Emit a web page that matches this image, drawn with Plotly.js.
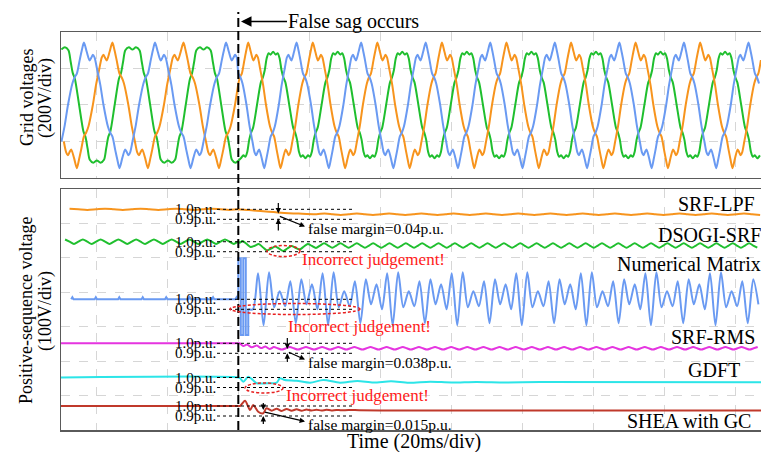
<!DOCTYPE html>
<html><head><meta charset="utf-8">
<script src="https://cdn.plot.ly/plotly-3.0.1.min.js"></script>
<style>html,body{margin:0;padding:0;background:#fff}#chart{width:761px;height:452px}</style>
</head><body><div id="chart"></div>
<script>
// ================= DATA =================
const sagTime = 50;              // ms, false sag instant
const prePeriod = 20;            // ms, grid period before the event
const postPeriod = 18.17;        // ms, grid period after the event
// one-cycle waveform shapes of the grid voltages (phase fraction, value in div of 200 V)
const sharpPhase = [0,0.04,0.08,0.105,0.127,0.15,0.183,0.23,0.275,0.337,0.37,0.40,0.44,0.47,0.5,0.54,0.58,0.605,0.627,0.65,0.683,0.73,0.775,0.837,0.87,0.90,0.94,0.97];
const sharpValue = [1.71,1.45,1.22,1.30,1.38,1.30,1.00,0.55,0.00,-0.59,-0.76,-0.86,-1.23,-1.50,-1.73,-1.45,-1.22,-1.30,-1.38,-1.30,-1.00,-0.55,0.00,0.59,0.76,0.86,1.23,1.50];
const flatPhase = [0,0.05,0.10,0.13,0.16,0.19,0.25,0.31,0.34,0.37,0.40,0.45,0.5,0.55,0.60,0.63,0.66,0.69,0.75,0.81,0.84,0.87,0.90,0.95];
const flatValue = [1.52,1.58,1.50,1.20,0.88,0.72,0,-0.72,-0.88,-1.20,-1.50,-1.58,-1.52,-1.58,-1.50,-1.20,-0.88,-0.72,0,0.72,0.88,1.20,1.50,1.58];
const flat2Phase = [0,0.04,0.07,0.10,0.13,0.16,0.19,0.25,0.31,0.34,0.37,0.40,0.43,0.46,0.5,0.54,0.57,0.60,0.63,0.66,0.69,0.75,0.81,0.84,0.87,0.90,0.93,0.96];
const flat2Value = [1.46,1.38,1.42,1.28,0.95,0.75,0.62,0,-0.62,-0.75,-0.95,-1.28,-1.42,-1.38,-1.46,-1.38,-1.42,-1.28,-0.95,-0.75,-0.62,0,0.62,0.75,0.95,1.28,1.42,1.38];
// reference instants (ms) of each phase's cycle start
const preRef  = {blue: 6.56, orange: 14.56, green: 20.2};
const postRef = {blue: 66.39, orange: 52.8, green: 59.8};

// positive-sequence estimates, p.u.
const ripplePhase = [0,0.25,0.5,0.75];
const lpfPre = [1.0,1.006,1.0,0.994];
const lpfTransT = [50.6,53,57,62,67,72];
const lpfTransV = [0.998,0.993,0.98,0.966,0.957,0.951];
const lpfPost = [0.951,0.958,0.951,0.944];

const dsogiPre = [1.0,1.022,1.0,0.978];
const dsogiTransT = [50.4,51.15,52.3,53.45,54.6,55.75,56.9,58.05,59.2,60.35,61.5,62.65,63.8,64.95,66.1,67.25,68.4,69.55,70.7,71.85,73.0,74.15];
const dsogiTransV = [0.99,1.007,0.98,0.948,0.96,0.977,0.945,0.913,0.93,0.952,0.93,0.908,0.932,0.957,0.94,0.923,0.95,0.977,0.958,0.938,0.962,0.984];
const dsogiPost = [0.962,0.94,0.962,0.984];

const nmPrePhase = [0,0.45,0.5,0.55];
const nmPreValue = [1.0,1.0,1.02,1.0];
const nmBlockT = [50,50,50.7,50.7,51.4,51.4,52.1,52.1,52.8,52.8];
const nmBlockV = [1.0,1.41,1.41,0.643,0.643,1.41,1.41,0.643,0.643,0.9];
const nmPostPhase = [0,0.085,0.165,0.25,0.335,0.415,0.5,0.585,0.665,0.75,0.835,0.915];
const nmPostValue = [0.74,1.27,0.92,1.08,0.93,1.18,0.76,1.20,0.95,1.15,0.90,1.26];

const rmsTransT = [50.4,51.4,52.4,53.8,55.2,56.4,57.6,58.8,60.0,61.1];
const rmsTransV = [1.0,0.973,0.987,0.96,0.977,0.952,0.968,0.943,0.962,0.95];
const rmsPost = [0.95,0.937,0.95,0.963];

const gdftTransT = [50.5,51.4,52.8,54.1,55.2,58.0,60.8,61.7,63.1,66.4,70.2,73.9,78.6,83.5,88,93,98,104,110,117,125,135,197.1];
const gdftTransV = [0.992,0.958,1.008,0.975,0.942,0.942,0.948,0.992,0.975,0.968,0.948,0.975,0.948,0.965,0.95,0.962,0.948,0.958,0.95,0.956,0.951,0.954,0.953];

const sheaTransT = [50.5,51.9,53.3,54.2,55.6,57.0,57.9,59.4,60.8,62.2,63.6,65.0,66.4,67.8,69.2,70.6,72,73.4,74.8,76.2,77.6,79,81,84,90,197.1];
const sheaTransV = [1.0,1.053,0.96,1.01,0.943,0.927,0.977,0.953,0.973,0.95,0.97,0.952,0.967,0.953,0.965,0.954,0.963,0.955,0.962,0.956,0.961,0.957,0.96,0.958,0.956,0.956];

const methodNames = ["SRF-LPF","DSOGI-SRF","Numerical Matrix","SRF-RMS","GDFT","SHEA with GC"];

// ================= helpers =================
const tMin = 0.1, tMax = 197.1;
const X = px => tMin + (px - 61) / 3.553;      // pixel -> ms
const YB = py => (430 - py) / 34.43;            // pixel -> bottom axis div
const PY = py => (430 - py) / 398;              // pixel -> paper y
const PX = px => (px - 61) / 700;               // pixel -> paper x
const puScale = 100 / 34.43;                    // div per p.u.

function tile(phase, value, tRef, period, t0, t1, reverse) {
  const pts = [];
  const k0 = Math.floor((t0 - tRef) / period) - 1, k1 = Math.ceil((t1 - tRef) / period) + 1;
  for (let k = k0; k <= k1; k++) for (let i = 0; i < phase.length; i++) {
    const f = reverse ? (1 - phase[i]) % 1 : phase[i];
    const t = tRef + (k + f) * period;
    if (t >= t0 && t <= t1) pts.push([t, value[i]]);
  }
  return pts.sort((a, b) => a[0] - b[0]);
}
const pairs = (T, V) => T.map((t, i) => [t, V[i]]);
function merge(...segs) {
  const out = [];
  segs.forEach(s => s.forEach(p => { if (!out.length || p[0] > out[out.length - 1][0] + 1e-6) out.push(p); }));
  return out;
}

const COL = {orange:'#F7941D', blue:'#6A9AF2', green:'#1FBF2E', magenta:'#E535E0', cyan:'#2CE5E8', red:'#C0392B'};
const FONT = 'Liberation Serif, Times New Roman, serif';

// ---- top panel traces ----
const blue = merge(tile(sharpPhase, sharpValue, preRef.blue, prePeriod, tMin, sagTime, false),
                   tile(sharpPhase, sharpValue, postRef.blue, postPeriod, sagTime, tMax, true));
const orange = merge(tile(sharpPhase, sharpValue, preRef.orange, prePeriod, tMin, sagTime, true),
                     tile(sharpPhase, sharpValue, postRef.orange, postPeriod, sagTime, tMax, false));
const green = merge(tile(flatPhase, flatValue, preRef.green, prePeriod, tMin, sagTime, false),
                    tile(flat2Phase, flat2Value, postRef.green, postPeriod, sagTime, tMax, false));

const traces = [];
function topTrace(pts, color) {
  traces.push({x: pts.map(p => p[0]), y: pts.map(p => p[1]), xaxis: 'x2', yaxis: 'y2', mode: 'lines',
    line: {color, width: 2, shape: 'spline', smoothing: 0.8}, hoverinfo: 'skip'});
}
topTrace(green, COL.green); topTrace(orange, COL.orange); topTrace(blue, COL.blue);

// ---- bottom panel traces ----
const base = {lpf: YB(209.3), dsogi: YB(241.7), nm: YB(299.3), rms: YB(343.3), gdft: YB(377.5), shea: YB(406)};
function botTrace(pts, off, color, shape) {
  traces.push({x: pts.map(p => p[0]), y: pts.map(p => off + (p[1] - 1) * puScale), xaxis: 'x', yaxis: 'y', mode: 'lines',
    line: {color, width: 2, shape: shape || 'spline', smoothing: 0.8}, hoverinfo: 'skip'});
}
botTrace(merge(tile(ripplePhase, lpfPre, 0, 10, tMin, sagTime), pairs(lpfTransT, lpfTransV),
               tile(ripplePhase, lpfPost, 72, 9.08, 72.01, tMax)), base.lpf, COL.orange);
botTrace(merge(tile(ripplePhase, dsogiPre, 0, 5, tMin, sagTime), pairs(dsogiTransT, dsogiTransV),
               tile(ripplePhase, dsogiPost, 75.3, 4.6, 75.3, tMax)), base.dsogi, COL.green);
botTrace(tile(nmPrePhase, nmPreValue, 0, 6.6, tMin, sagTime), base.nm, COL.blue, 'linear');
botTrace(pairs(nmBlockT, nmBlockV), base.nm, COL.blue, 'linear');
botTrace(merge([[52.8, 0.9]], tile(nmPostPhase, nmPostValue, 57.1, postPeriod, 53, tMax)), base.nm, COL.blue);
botTrace(merge([[tMin, 1.0], [sagTime, 1.0]], pairs(rmsTransT, rmsTransV),
               tile(ripplePhase, rmsPost, 61.1, 4.54, 61.11, tMax)), base.rms, COL.magenta);
botTrace(merge([[tMin, 1.0], [sagTime, 1.0]], pairs(gdftTransT, gdftTransV)), base.gdft, COL.cyan);
botTrace(merge([[tMin, 1.0], [sagTime, 1.0]], pairs(sheaTransT, sheaTransV)), base.shea, COL.red);

// ---- shapes ----
const shapes = [];
shapes.push({type: 'line', xref: 'x', yref: 'paper', x0: sagTime, x1: sagTime, y0: 0, y1: PY(12),
  line: {color: '#000', width: 2, dash: '9px,4px'}, layer: 'above'});
const annotations = [];
const offs = [base.lpf, base.dsogi, base.nm, base.rms, base.gdft, base.shea];
offs.forEach(o => {
  [1.0, 0.9].forEach(lv => {
    const yv = o + (lv - 1) * puScale;
    shapes.push({type: 'line', xref: 'x', yref: 'y', x0: X(217), x1: X(352), y0: yv, y1: yv,
      line: {color: '#000', width: 1, dash: 'dot'}, layer: 'above'});
    annotations.push({xref: 'x', yref: 'y', x: X(218), y: yv, xanchor: 'right', yanchor: 'middle',
      text: lv.toFixed(1) + 'p.u.', showarrow: false, font: {family: FONT, size: 15, color: '#000'}});
  });
});
// red ellipses
[[267, 300, 245.5, 256.5], [230, 360, 303.5, 314.5], [245, 283, 383, 393]].forEach(e => {
  shapes.push({type: 'circle', xref: 'x', yref: 'y', x0: X(e[0]), x1: X(e[1]), y0: YB(e[3]), y1: YB(e[2]),
    line: {color: '#E82020', width: 1.5, dash: '3px,2px'}, layer: 'above'});
});

// ---- annotations ----
const lbl = (txt, px, py, size, color, anchor) => annotations.push({xref: 'x', yref: 'y', x: X(px), y: YB(py),
  xanchor: anchor || 'left', yanchor: 'middle', text: txt, showarrow: false, font: {family: FONT, size, color}});
lbl(methodNames[0], 676, 203.5, 20, '#000');
lbl(methodNames[1], 656, 235, 20, '#000');
lbl(methodNames[2], 615, 263.5, 20, '#000');
lbl(methodNames[3], 669, 336.5, 20, '#000');
lbl(methodNames[4], 686, 369.5, 20, '#000');
lbl(methodNames[5], 625, 420.5, 20, '#000');
lbl('Incorrect judgement!', 300, 259.5, 17, '#FF1A1A');
lbl('Incorrect judgement!', 286, 326, 17, '#FF1A1A');
lbl('Incorrect judgement!', 284, 395, 17, '#FF1A1A');
lbl('false margin=0.04p.u.', 306, 228, 15.5, '#000');
lbl('false margin=0.038p.u.', 306, 362, 15.5, '#000');
lbl('false margin=0.015p.u.', 306, 424, 15.5, '#000');

const arrow = (tipx, tipy, sx, sy, size) => annotations.push({xref: 'x', yref: 'y', x: X(tipx), y: YB(tipy),
  ax: sx - tipx, ay: sy - tipy, text: '', showarrow: true, arrowhead: 2, arrowsize: size || 0.9, arrowwidth: 1.2,
  arrowcolor: '#000', standoff: 0, startstandoff: 0});
// SRF-LPF margin
arrow(278.3, 213.5, 278.3, 201.5); arrow(278.3, 218.5, 278.3, 232); arrow(305, 226.5, 278.3, 215.7);
// SRF-RMS margin
arrow(287.3, 349, 287.3, 336.5); arrow(287.3, 353.3, 287.3, 363.5); arrow(305, 359.5, 287.3, 351.5);
// SHEA margin
arrow(263.3, 410, 263.3, 401.5); arrow(263.3, 416, 263.3, 425.5); arrow(305, 421.5, 263.3, 411.7);

// False sag occurs
annotations.push({xref: 'x', yref: 'paper', x: X(241), y: PY(21.5), ax: 112, ay: 0, text: 'False sag occurs',
  showarrow: true, arrowhead: 2, arrowsize: 1.4, arrowwidth: 1.5, arrowcolor: '#000', standoff: 0,
  font: {family: FONT, size: 20, color: '#000'}, borderpad: 0});
// axis titles
const ttl = (txt, px, py, size) => annotations.push({xref: 'paper', yref: 'paper', x: PX(px), y: PY(py),
  xanchor: 'center', yanchor: 'middle', text: txt, textangle: -90, showarrow: false, font: {family: FONT, size, color: '#000'}});
ttl('Grid voltages', 27, 98, 18); ttl('(200V/div)', 45, 98, 18);
ttl('Positive-sequence voltage', 26, 311, 18); ttl('(100V/div)', 45, 311, 18);
annotations.push({xref: 'paper', yref: 'paper', x: PX(413.5), y: PY(441), xanchor: 'center', yanchor: 'middle',
  text: 'Time (20ms/div)', showarrow: false, font: {family: FONT, size: 20, color: '#000'}});

const gridX = {range: [tMin, tMax], tick0: 10, dtick: 20, showgrid: true, gridcolor: '#d6d6d6', griddash: 'dash',
  gridwidth: 1, zeroline: false, showticklabels: false, ticks: '', showline: true, mirror: true,
  linecolor: '#5a5a5a', linewidth: 1.5, fixedrange: true};
const layout = {
  width: 761, height: 452, margin: {l: 61, r: 0, t: 32, b: 22}, showlegend: false,
  paper_bgcolor: '#fff', plot_bgcolor: '#fff', font: {family: FONT},
  xaxis: Object.assign({}, gridX, {anchor: 'y'}),
  xaxis2: Object.assign({}, gridX, {anchor: 'y2', matches: 'x'}),
  yaxis: {domain: [0, 0.6055], range: [0, 7], dtick: 1, tick0: 0, showgrid: true, gridcolor: '#d6d6d6', griddash: 'dash',
    zeroline: false, showticklabels: false, ticks: '', showline: true, linecolor: '#5a5a5a', linewidth: 1.5, anchor: 'x'},
  yaxis2: {domain: [0.6332, 1], range: [-2, 2], dtick: 1, tick0: 0, showgrid: true, gridcolor: '#d6d6d6', griddash: 'dash',
    zeroline: false, showticklabels: false, ticks: '', showline: true, linecolor: '#5a5a5a', linewidth: 1.5, anchor: 'x2'},
  shapes, annotations
};
Plotly.newPlot('chart', traces, layout, {staticPlot: true, displayModeBar: false});
</script></body></html>
